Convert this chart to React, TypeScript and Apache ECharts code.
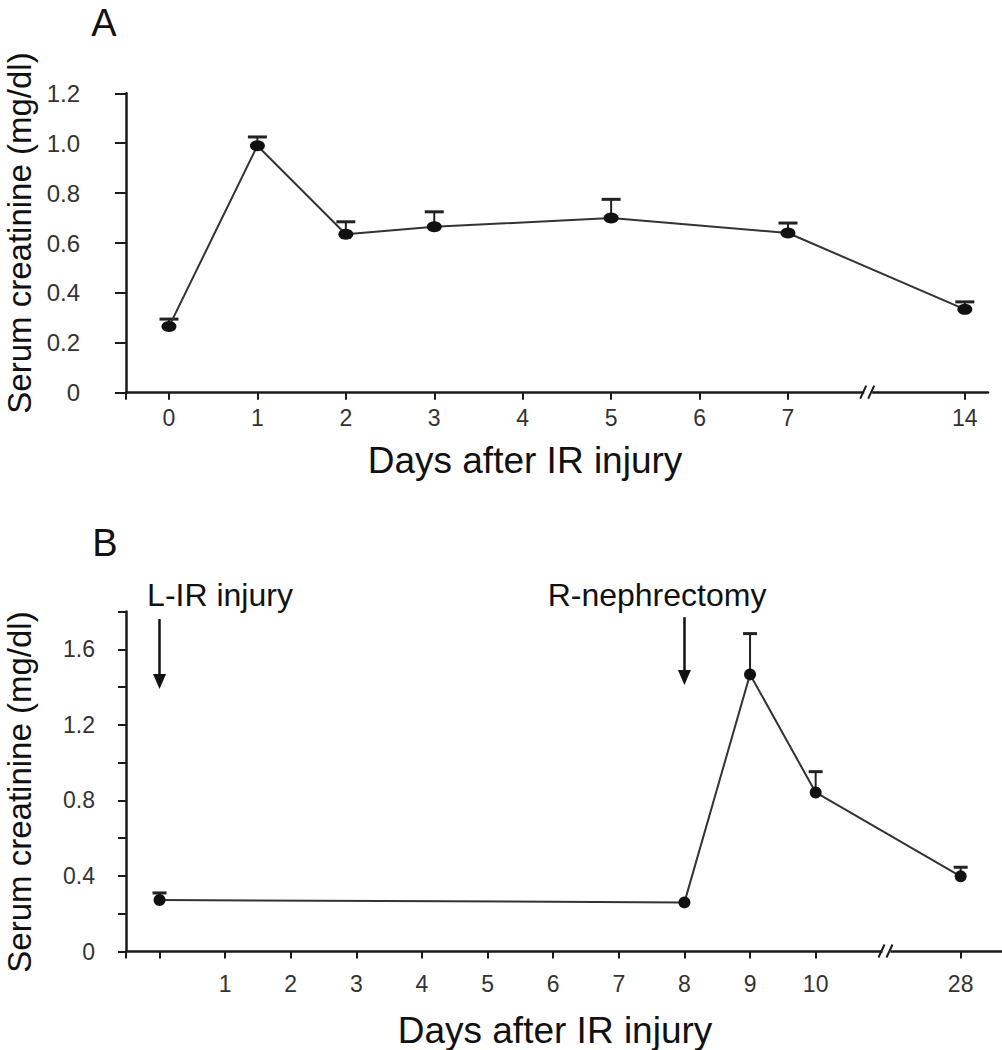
import React, { useEffect, useRef } from "react";
import * as echarts from "echarts";

// ---------- Panel A data ----------
const aTickDays = [0, 1, 2, 3, 4, 5, 6, 7, 14];
const aTickPos = [0, 1, 2, 3, 4, 5, 6, 7, 9];
const aDays = [0, 1, 2, 3, 5, 7, 14];
const aMean = [0.265, 0.99, 0.635, 0.665, 0.7, 0.64, 0.334];
const aSem = [0.03, 0.035, 0.05, 0.06, 0.075, 0.04, 0.03];
const aXRange = [-0.486, 9.262];
const aBreakPos = 7.93;

// ---------- Panel B data ----------
const bTickDays = [0, 1, 2, 3, 4, 5, 6, 7, 8, 9, 10, 28];
const bTickPos = [0, 1, 2, 3, 4, 5, 6, 7, 8, 9, 10, 12.21];
const bTickLabels = ["", "1", "2", "3", "4", "5", "6", "7", "8", "9", "10", "28"];
const bDays = [0, 8, 9, 10, 28];
const bMean = [0.273, 0.26, 1.467, 0.842, 0.398];
const bSem = [0.037, 0, 0.216, 0.11, 0.048];
const bXRange = [-0.511, 12.84];
const bBreakPos = 11.11;

// Event arrows (panel B)
const arrowDays = [0, 8];
const arrowFrom = [1.76, 1.77];
const arrowTo = [1.43, 1.45];
const arrowTexts = ["L-IR injury", "R-nephrectomy"];

const FONT = "'Liberation Sans', Arial, sans-serif";
const AXIS = "#1a1a1a";
const TXT = "#333";

const posOf = (days: number[], pos: number[], d: number) => pos[days.indexOf(d)];
const near = (a: number, b: number) => Math.abs(a - b) < 1e-6;

function errSeries(xi: number, data: number[][], capW: number) {
  return {
    type: "custom",
    xAxisIndex: xi,
    yAxisIndex: xi,
    data,
    z: 2,
    silent: true,
    encode: { x: 0, y: [1, 2] },
    renderItem: (_p: any, api: any) => {
      const x = api.value(0);
      const m = api.value(1);
      const t = api.value(2);
      if (t - m <= 0) return { type: "group", children: [] };
      const b = api.coord([x, m]);
      const tp = api.coord([x, t]);
      return {
        type: "group",
        children: [
          { type: "line", shape: { x1: b[0], y1: b[1], x2: tp[0], y2: tp[1] }, style: { stroke: "#222", lineWidth: 2 } },
          {
            type: "line",
            shape: { x1: tp[0] - capW / 2, y1: tp[1], x2: tp[0] + capW / 2, y2: tp[1] },
            style: { stroke: "#222", lineWidth: 3 },
          },
        ],
      };
    },
  };
}

export default function App() {
  const ref = useRef<HTMLDivElement>(null);
  useEffect(() => {
    document.body.style.margin = "0";
    const chart = echarts.init(ref.current!, null, { renderer: "svg" });

    const aPts = aDays.map((d, i) => [posOf(aTickDays, aTickPos, d), aMean[i]]);
    const aErr = aDays.map((d, i) => [posOf(aTickDays, aTickPos, d), aMean[i], aMean[i] + aSem[i]]);
    const bPts = bDays.map((d, i) => [posOf(bTickDays, bTickPos, d), bMean[i]]);
    const bErr = bDays.map((d, i) => [posOf(bTickDays, bTickPos, d), bMean[i], bMean[i] + bSem[i]]);

    const xAxisBase = (gi: number, range: number[], tickPos: number[], labelPos: number[], fmt: (v: number) => string, margin: number) => ({
      gridIndex: gi,
      type: "value",
      min: range[0],
      max: range[1],
      axisLine: { show: true, onZero: false, lineStyle: { color: AXIS, width: 2.5 } },
      axisTick: { show: true, length: 7, customValues: [range[0], ...tickPos], lineStyle: { color: AXIS, width: 2 } },
      axisLabel: { customValues: labelPos, formatter: fmt, margin, fontSize: 23, color: TXT, fontFamily: FONT },
      splitLine: { show: false },
    });

    const option: any = {
      animation: false,
      backgroundColor: "#fff",
      grid: [
        { left: 126, top: 93.3, width: 862, height: 299.4, outerBoundsMode: "none" },
        { left: 126, top: 611.5, width: 876, height: 340, outerBoundsMode: "none" },
      ],
      xAxis: [
        xAxisBase(0, aXRange, aTickPos, aTickPos, (v: number) => {
          const i = aTickPos.findIndex((p) => near(p, v));
          return i >= 0 ? String(aTickDays[i]) : "";
        }, 14),
        xAxisBase(1, bXRange, bTickPos, bTickPos.filter((_, i) => bTickLabels[i] !== ""), (v: number) => {
          const i = bTickPos.findIndex((p) => near(p, v));
          return i >= 0 ? bTickLabels[i] : "";
        }, 21),
      ],
      yAxis: [
        {
          gridIndex: 0,
          type: "value",
          min: 0,
          max: 1.2,
          interval: 0.2,
          axisLine: { show: true, onZero: false, lineStyle: { color: AXIS, width: 2.5 } },
          axisTick: { show: true, length: 11, lineStyle: { color: AXIS, width: 2 } },
          splitLine: { show: false },
          axisLabel: {
            margin: 46,
            fontSize: 24,
            color: TXT,
            fontFamily: FONT,
            formatter: (v: number) => (near(v, 0) ? "0" : v.toFixed(1)),
          },
        },
        {
          gridIndex: 1,
          type: "value",
          min: 0,
          max: 1.8,
          interval: 0.2,
          axisLine: { show: true, onZero: false, lineStyle: { color: AXIS, width: 2.5 } },
          axisTick: { show: true, length: 8, lineStyle: { color: AXIS, width: 2 } },
          splitLine: { show: false },
          axisLabel: {
            margin: 31,
            fontSize: 23,
            color: TXT,
            fontFamily: FONT,
            formatter: (v: number) => {
              const k = Math.round(v * 10);
              if (k === 0) return "0";
              return k % 4 === 0 ? (k / 10).toFixed(1) : "";
            },
          },
        },
      ],
      series: [
        errSeries(0, aErr, 19),
        {
          type: "line",
          xAxisIndex: 0,
          yAxisIndex: 0,
          data: aPts,
          z: 3,
          symbol: "circle",
          symbolSize: [15, 11],
          itemStyle: { color: "#111" },
          lineStyle: { color: "#333", width: 2 },
        },
        errSeries(1, bErr, 14),
        {
          type: "line",
          xAxisIndex: 1,
          yAxisIndex: 1,
          data: bPts,
          z: 3,
          symbol: "circle",
          symbolSize: 12,
          itemStyle: { color: "#111" },
          lineStyle: { color: "#333", width: 2 },
          markLine: {
            silent: true,
            symbol: ["none", "triangle"],
            symbolSize: [13, 15],
            label: { show: false },
            lineStyle: { color: "#111", width: 2.5, type: "solid" },
            data: arrowDays.map((d, i) => [
              { coord: [posOf(bTickDays, bTickPos, d), arrowFrom[i]] },
              { coord: [posOf(bTickDays, bTickPos, d), arrowTo[i]] },
            ]),
          },
        },
      ],
    };
    chart.setOption(option);

    const brk = (gi: number, pos: number) => {
      const p = chart.convertToPixel({ gridIndex: gi } as any, [pos, 0]) as number[];
      const x = p[0];
      const y = p[1];
      return [
        { type: "rect", shape: { x: x - 6, y: y - 3, width: 8, height: 6 }, style: { fill: "#fff" }, z: 100 },
        { type: "line", shape: { x1: x - 10, y1: y + 6, x2: x - 4, y2: y - 7 }, style: { stroke: AXIS, lineWidth: 2 }, z: 101 },
        { type: "line", shape: { x1: x - 2, y1: y + 6, x2: x + 4, y2: y - 7 }, style: { stroke: AXIS, lineWidth: 2 }, z: 101 },
      ];
    };

    const txt = (text: string, x: number, y: number, size: number, rot = 0, color = "#111") => ({
      type: "text",
      x,
      y,
      rotation: rot,
      z: 100,
      style: { text, fill: color, font: `${size}px ${FONT}`, align: "center", verticalAlign: "middle" },
    });

    chart.setOption({
      graphic: [
        ...brk(0, aBreakPos),
        ...brk(1, bBreakPos),
        txt("A", 104, 23, 38),
        txt("B", 105, 543, 38),
        txt("Serum creatinine (mg/dl)", 19, 233, 33, Math.PI / 2),
        txt("Serum creatinine (mg/dl)", 19, 792, 33, Math.PI / 2),
        txt("Days after IR injury", 525, 460, 37),
        txt("Days after IR injury", 555, 1030, 37),
        txt(arrowTexts[0], 220, 595, 32),
        txt(arrowTexts[1], 657, 595, 32),
      ],
    });

    return () => chart.dispose();
  }, []);
  return <div ref={ref} style={{ position: "absolute", left: 0, top: 0, width: 1002, height: 1050 }} />;
}
